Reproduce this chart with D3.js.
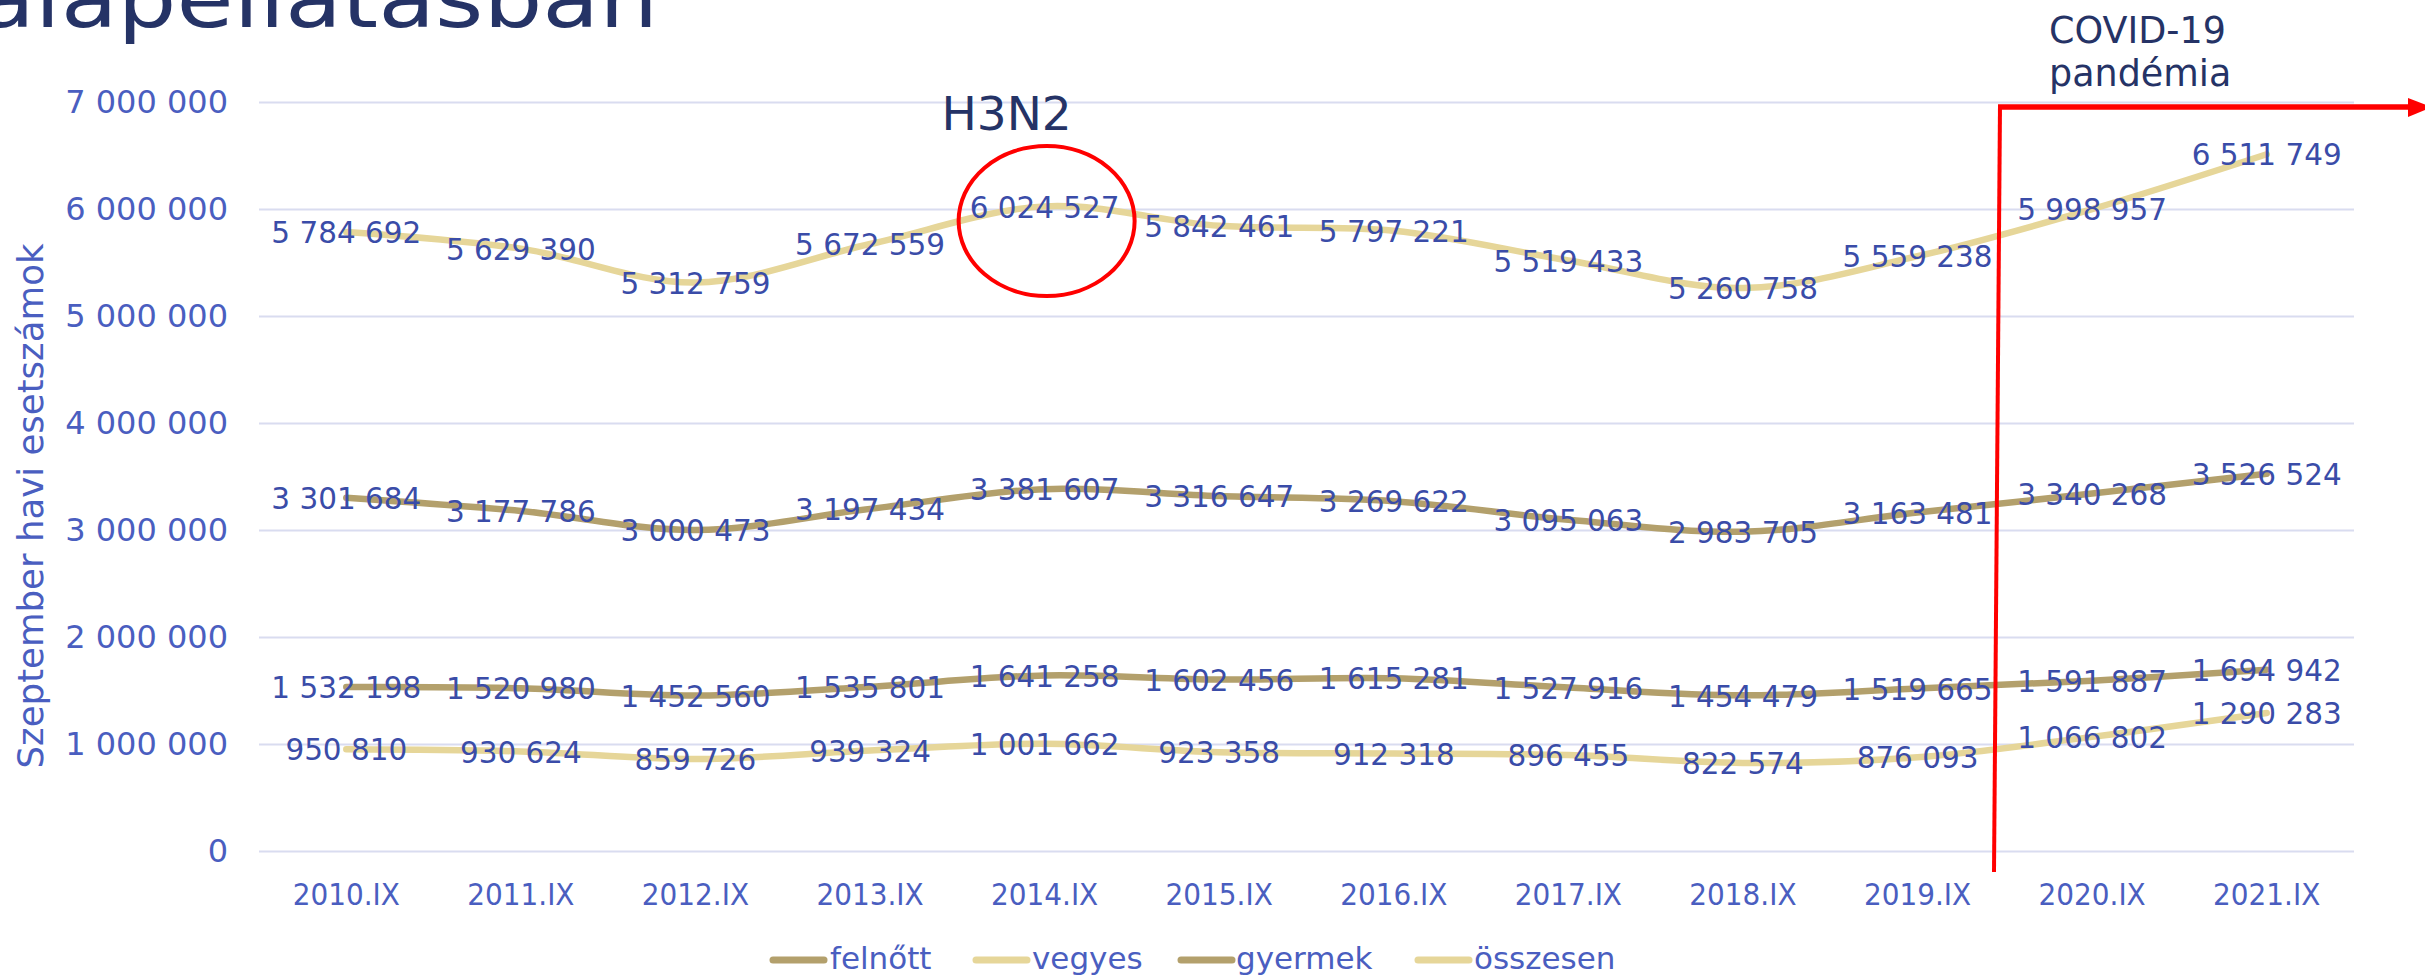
<!DOCTYPE html>
<html>
<head>
<meta charset="utf-8">
<script src="https://cdn.jsdelivr.net/npm/d3@7"></script>
<style>
  html, body { margin: 0; padding: 0; background: #ffffff; }
  svg { display: block; }
  text { font-family: "DejaVu Sans", "Noto Sans", sans-serif; }
</style>
</head>
<body>
<script>
// ---------- DATA ----------
const categories = ["2010.IX","2011.IX","2012.IX","2013.IX","2014.IX","2015.IX","2016.IX","2017.IX","2018.IX","2019.IX","2020.IX","2021.IX"];
const felnott  = [3301684, 3177786, 3000473, 3197434, 3381607, 3316647, 3269622, 3095063, 2983705, 3163481, 3340268, 3526524];
const vegyes   = [950810, 930624, 859726, 939324, 1001662, 923358, 912318, 896455, 822574, 876093, 1066802, 1290283];
const gyermek  = [1532198, 1520980, 1452560, 1535801, 1641258, 1602456, 1615281, 1527916, 1454479, 1519665, 1591887, 1694942];
const osszesen = [5784692, 5629390, 5312759, 5672559, 6024527, 5842461, 5797221, 5519433, 5260758, 5559238, 5998957, 6511749];
const seriesNames = ["felnőtt", "vegyes", "gyermek", "összesen"];
const seriesValues = [felnott, vegyes, gyermek, osszesen];
const yTicks = [0, 1000000, 2000000, 3000000, 4000000, 5000000, 6000000, 7000000];
const yTitle = "Szeptember havi esetszámok";
const pageTitle = "alapellátásban";
const h3n2Label = "H3N2";
const h3n2Category = "2014.IX";
const covidLines = ["COVID-19", "pandémia"];

// ---------- STYLE ----------
const W = 2425, H = 976;
const colors = ["#b3a06c", "#e6d699", "#b3a06c", "#e6d699"];
const tickColor = "#4a5ec0";
const labelColor = "#3a4ca8";
const navy = "#253366";
const gridColor = "#d9dcf0";

const svg = d3.select("body").append("svg").attr("width", W).attr("height", H);
svg.append("rect").attr("width", W).attr("height", H).attr("fill", "#fff");

// horizontal squeeze helper (mimics the narrower-digit original face)
function squeeze(sel, k) {
  sel.each(function() {
    const w = this.getComputedTextLength();
    d3.select(this).attr("textLength", w * k).attr("lengthAdjust", "spacingAndGlyphs");
  });
}

const x = d3.scaleBand().domain(categories).range([259, 2354]).padding(0);
const cx = c => x(c) + x.bandwidth() / 2;
const y = d3.scaleLinear().domain([0, 7000000]).range([851, 102]);

const loc = d3.formatLocale({decimal: ",", thousands: " ", grouping: [3], currency: ["", ""]});
const fmt = loc.format(",d");

// Y axis with gridlines
const yAxis = svg.append("g").attr("transform", "translate(259,0)")
  .call(d3.axisLeft(y).tickValues(yTicks).tickSize(-(2354 - 259)).tickPadding(31).tickFormat(fmt));
yAxis.select(".domain").remove();
yAxis.selectAll(".tick line").attr("stroke", gridColor).attr("stroke-width", 2);
yAxis.selectAll(".tick text").attr("fill", tickColor).attr("font-size", 32).attr("font-family", "DejaVu Sans");

// X axis
const xAxis = svg.append("g").attr("transform", "translate(0,851)")
  .call(d3.axisBottom(x).tickSize(0).tickPadding(32));
xAxis.select(".domain").remove();
xAxis.selectAll(".tick text").attr("fill", tickColor).attr("font-size", 31).attr("font-family", "DejaVu Sans")
  .call(squeeze, 0.9);

// Y axis title
svg.append("text")
  .attr("transform", "translate(43,506) rotate(-90)")
  .attr("text-anchor", "middle")
  .attr("fill", tickColor)
  .attr("font-size", 36)
  .attr("textLength", 525).attr("lengthAdjust", "spacingAndGlyphs")
  .text(yTitle);

// Lines
const line = d3.line()
  .x((d, i) => cx(categories[i]))
  .y(d => y(d))
  .curve(d3.curveCatmullRom.alpha(0));

seriesValues.forEach((vals, si) => {
  svg.append("path")
    .attr("d", line(vals))
    .attr("fill", "none")
    .attr("stroke", colors[si])
    .attr("stroke-width", 6.5)
    .attr("stroke-linecap", "round")
    .attr("stroke-linejoin", "round");
});

// Data labels
seriesValues.forEach((vals, si) => {
  svg.append("g").selectAll("text").data(vals).join("text")
    .attr("x", (d, i) => cx(categories[i]))
    .attr("y", d => y(d))
    .attr("dy", "0.36em")
    .attr("text-anchor", "middle")
    .attr("fill", labelColor)
    .attr("font-size", 31)
    .text(d => fmt(d))
    .call(squeeze, 0.95);
});

// Legend
const legendItems = [
  {sx: 770, tx: 830},
  {sx: 973, tx: 1032},
  {sx: 1178, tx: 1236},
  {sx: 1415, tx: 1474}
];
seriesNames.forEach((name, i) => {
  const it = legendItems[i];
  svg.append("line")
    .attr("x1", it.sx + 3).attr("x2", it.sx + 54)
    .attr("y1", 960).attr("y2", 960)
    .attr("stroke", colors[i]).attr("stroke-width", 7).attr("stroke-linecap", "round");
  svg.append("text")
    .attr("x", it.tx).attr("y", 969)
    .attr("fill", tickColor).attr("font-size", 31)
    .text(name);
});

// Page title (cut at top, as in the original slide)
svg.append("text")
  .attr("x", -22).attr("y", 27)
  .attr("fill", navy).attr("font-size", 80)
  .attr("textLength", 680).attr("lengthAdjust", "spacingAndGlyphs")
  .text(pageTitle);

// H3N2 annotation
const hx = cx(h3n2Category);
svg.append("text")
  .attr("x", hx - 38).attr("y", 130)
  .attr("text-anchor", "middle")
  .attr("fill", navy).attr("font-size", 47)
  .text(h3n2Label);
svg.append("ellipse")
  .attr("cx", hx + 2).attr("cy", 221)
  .attr("rx", 88).attr("ry", 75)
  .attr("fill", "none").attr("stroke", "#ff0000").attr("stroke-width", 4);

// COVID annotation
covidLines.forEach((t, i) => {
  svg.append("text")
    .attr("x", 2049).attr("y", 43 + i * 43)
    .attr("fill", navy).attr("font-size", 38)
    .text(t)
    .call(squeeze, 0.96);
});
svg.append("line")
  .attr("x1", 2000).attr("y1", 105).attr("x2", 1994).attr("y2", 872)
  .attr("stroke", "#ff0000").attr("stroke-width", 4);
svg.append("line")
  .attr("x1", 1998).attr("y1", 107).attr("x2", 2414).attr("y2", 107)
  .attr("stroke", "#ff0000").attr("stroke-width", 5.5);
svg.append("path")
  .attr("d", "M2408,98 L2432,107 L2408,117 Z")
  .attr("fill", "#ff0000");
</script>
</body>
</html>
